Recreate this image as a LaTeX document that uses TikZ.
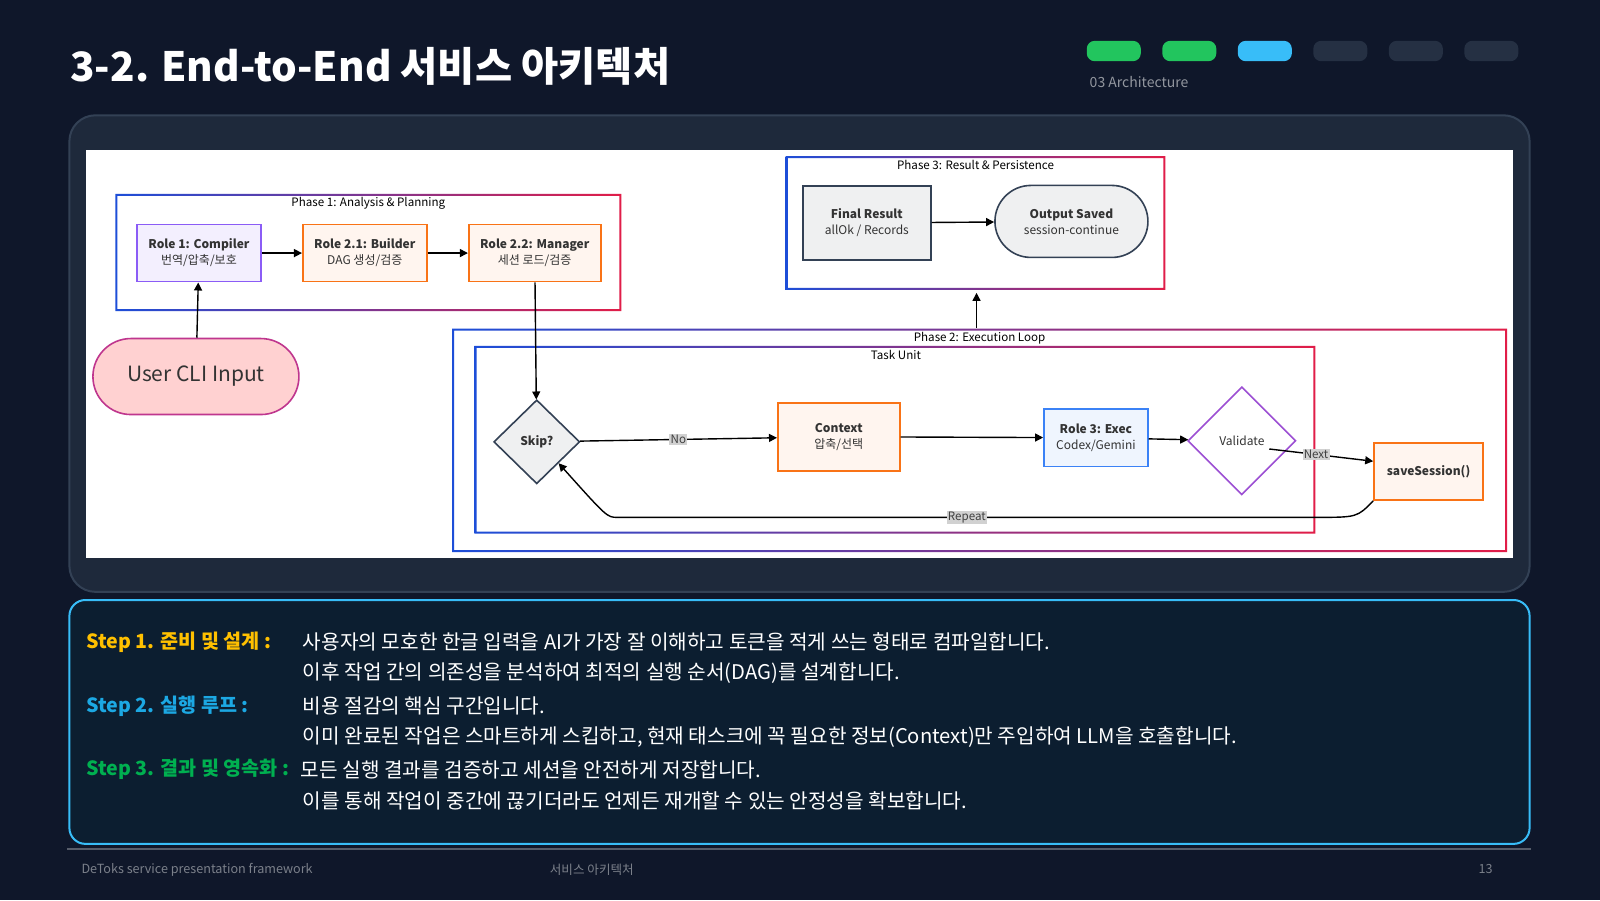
\documentclass[tikz,border=0pt]{standalone}
\usepackage{fontspec}
\setmainfont{Noto Sans CJK KR}
\usetikzlibrary{shapes.geometric}
\usetikzlibrary{arrows.meta}
\usetikzlibrary{calc}
\definecolor{bg}{HTML}{0F172A}
\definecolor{panel}{HTML}{1E293B}
\definecolor{panelline}{HTML}{334155}
\definecolor{green1}{HTML}{22C55E}
\definecolor{sky1}{HTML}{38BDF8}
\definecolor{pill}{HTML}{253043}
\definecolor{gblue}{HTML}{1D4ED8}
\definecolor{gred}{HTML}{E11D48}
\definecolor{purple1}{HTML}{8B5CF6}
\definecolor{orange1}{HTML}{F97316}
\definecolor{blue1}{HTML}{3B82F6}
\definecolor{slate1}{HTML}{334155}
\definecolor{step1}{HTML}{FFC000}
\definecolor{step2}{HTML}{1CA8E3}
\definecolor{step3}{HTML}{00B050}
\definecolor{textbox}{HTML}{0C1E30}
\tikzset{
  box/.style={rectangle, line width=0.8pt, inner sep=0pt, align=center, font=\fontsize{6pt}{8pt}\selectfont, text=black!80},
  phase/.style={font=\fontsize{5.8pt}{7pt}\selectfont, text=black},
  arr/.style={-{Triangle[length=4pt,width=4pt]}, line width=0.7pt},
  tag/.style={fill=black!18, inner sep=0.6pt, font=\fontsize{5.8pt}{7pt}\selectfont, text=black!75},
  body/.style={anchor=west, text=white!92, font=\fontsize{10.1pt}{11pt}\selectfont},
  foot/.style={text=white!45!bg, font=\fontsize{6.3pt}{7pt}\selectfont},
}
% blue-to-red frame
\newcommand{\gradframe}[4]{\shade[left color=gblue,right color=gred,even odd rule] (#1,#2) rectangle (#3,#4) (#1+2,#2+2) rectangle (#3-2,#4-2);}

\begin{document}
\begin{tikzpicture}[x=0.5102pt, y=-0.5102pt]
  \fill[bg] (0,0) rectangle (1568,882);
  \useasboundingbox (0,0) rectangle (1568,882);
  \node[anchor=west, text=white, font=\fontsize{20.2pt}{24pt}\selectfont\bfseries] (title) at (62,65) {3-2. End-to-End 서비스 아키텍처};
  \foreach \x/\c in {1065/green1, 1139/green1, 1213/sky1, 1287/pill, 1361/pill, 1435/pill}
    \fill[\c, rounded corners=4pt] (\x,40) rectangle (\x+53,60);
  \node[anchor=west, text=white!55!bg, font=\fontsize{7pt}{8pt}\selectfont] (sect) at (1061,80) {03 Architecture};

  \filldraw[fill=panel, draw=panelline, line width=1pt, rounded corners=13pt] (68,113) rectangle (1499,580);
  \fill[white] (84,147) rectangle (1483,547);

  % phase frames
  \gradframe{113}{190}{609}{305}
  \gradframe{770}{153}{1142}{284}
  \gradframe{443}{322}{1477}{541}
  \gradframe{465}{339}{1289}{523}
  \node[phase] (p1) at (361,199) {Phase 1: Analysis \& Planning};
  \node[phase] (p3) at (956,162) {Phase 3: Result \& Persistence};
  \node[phase] (p2) at (960,331) {Phase 2: Execution Loop};
  \node[phase] (tu) at (878,348) {Task Unit};

  \node[box, fill=purple1!10, draw=purple1, minimum width=62pt, minimum height=28.6pt] (comp) at (195,248) {\textbf{Role 1: Compiler}\\번역/압축/보호};
  \node[box, fill=orange1!7, draw=orange1, minimum width=62pt, minimum height=28.6pt] (build) at (357.5,248) {\textbf{Role 2.1: Builder}\\DAG 생성/검증};
  \node[box, fill=orange1!7, draw=orange1, minimum width=66pt, minimum height=28.6pt] (mgr) at (524,248) {\textbf{Role 2.2: Manager}\\세션 로드/검증};
  \node[box, fill=red!18, draw=purple1!40!gred, rounded corners=19pt, minimum width=103pt, minimum height=38pt, font=\fontsize{10.5pt}{12pt}\selectfont] (user) at (192,369) {User CLI Input};

  \node[box, fill=slate1!8, draw=slate1, minimum width=64pt, minimum height=37pt] (final) at (849.5,218.5) {\textbf{Final Result}\\allOk / Records};
  \node[box, fill=slate1!8, draw=slate1, rounded corners=18pt, minimum width=76.5pt, minimum height=36pt] (out) at (1050,217) {\textbf{Output Saved}\\session-continue};

  \node[box, diamond, aspect=1, fill=slate1!8, draw=slate1, minimum width=43pt, minimum height=42pt] (skip) at (526,433) {\textbf{Skip?}};
  \node[box, fill=orange1!7, draw=orange1, minimum width=61pt, minimum height=34pt] (ctx) at (822,428) {\textbf{Context}\\압축/선택};
  \node[box, fill=blue1!8, draw=blue1, minimum width=52pt, minimum height=28.6pt] (exec) at (1074,429) {\textbf{Role 3: Exec}\\Codex/Gemini};
  \node[box, diamond, aspect=1, fill=white, draw=purple1!80!gred, minimum width=54pt, minimum height=54pt] (val) at (1217,432) {Validate};
  \node[box, fill=orange1!7, draw=orange1, minimum width=54.6pt, minimum height=28.6pt] (save) at (1400,462) {\textbf{saveSession()}};

  \coordinate (p2top) at (957,321);
  \coordinate (p3bot) at (957,287);

  \foreach \from/\to in {user/comp, comp/build, build/mgr, final/out, ctx/exec, exec/val, p2top/p3bot}
    \draw[arr] (\from) -- (\to);
  \draw[arr] (mgr) -- (skip);
  \draw[arr] (skip) -- node[tag, pos=0.5] {No} (ctx);
  \draw[arr] (val.south east |- 0,440) -- node[tag, pos=0.45] {Next} (save.west |- 0,452);
  \draw[arr] (save.south west) .. controls (1330,507) .. (1290,507) -- node[tag, pos=0.5] {Repeat} (605,507) .. controls (595,507) .. (skip.south east);

  % steps
  \filldraw[fill=textbox, draw=sky1, line width=1pt, rounded corners=8pt] (68,588) rectangle (1499,827);
  \foreach \y/\c/\s in {629/step1/{Step 1. 준비 및 설계 :}, 692/step2/{Step 2. 실행 루프 :}, 754/step3/{Step 3. 결과 및 영속화 :}}
    \node[anchor=west, text=\c, font=\fontsize{9.8pt}{11pt}\selectfont\bfseries] at (78,\y) {\s};
  \node[body] (l1) at (290,629) {사용자의 모호한 한글 입력을 AI가 가장 잘 이해하고 토큰을 적게 쓰는 형태로 컴파일합니다.};
  \node[body] (l2) at (290,660) {이후 작업 간의 의존성을 분석하여 최적의 실행 순서(DAG)를 설계합니다.};
  \node[body] (l3) at (290,692) {비용 절감의 핵심 구간입니다.};
  \node[body] (l4) at (290,722) {이미 완료된 작업은 스마트하게 스킵하고, 현재 태스크에 꼭 필요한 정보(Context)만 주입하여 LLM을 호출합니다.};
  \node[body] (l5) at (288,754) {모든 실행 결과를 검증하고 세션을 안전하게 저장합니다.};
  \node[body] (l6) at (290,785) {이를 통해 작업이 중간에 끊기더라도 언제든 재개할 수 있는 안정성을 확보합니다.};

  % footer
  \draw[white!30!bg, line width=0.8pt] (66,832) -- (1500,832);
  \node[foot, anchor=west] (f1) at (73,852) {DeToks service presentation framework};
  \node[foot] (f2) at (580,852) {서비스 아키텍처};
  \node[foot] (f3) at (1456,852) {13};
\end{tikzpicture}
\end{document}
